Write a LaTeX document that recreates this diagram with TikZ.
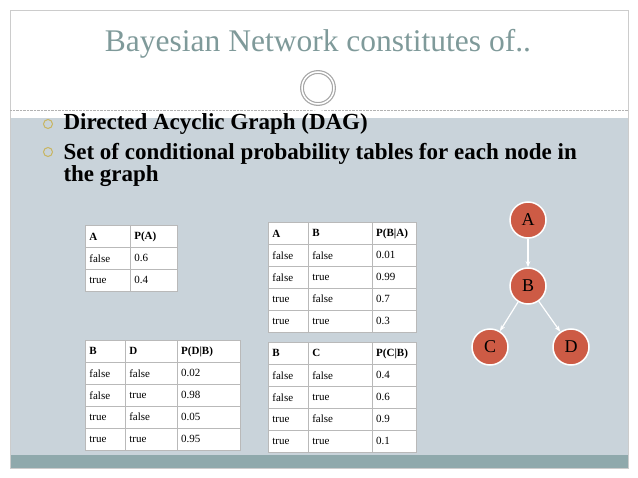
\documentclass[tikz,border=0pt]{standalone}
\usepackage{fontspec}
\setmainfont{Liberation Serif}
\usetikzlibrary{matrix,arrows.meta,positioning}
\definecolor{slidebg}{HTML}{C9D3DA}
\definecolor{strip}{HTML}{8FA9AC}
\definecolor{titlecol}{HTML}{7F9A9A}
\definecolor{nodered}{HTML}{CD5B45}
\definecolor{bulletcol}{HTML}{C8B560}
\tikzset{
  cell/.style={draw=gray!55, fill=white, minimum height=22, inner sep=4pt,
    align=left, font=\fontsize{11}{12}\selectfont, anchor=center},
  cpt/.style={matrix of nodes, row sep=-0.5pt, column sep=-0.5pt, inner sep=0pt,
    nodes={cell}},
  bnode/.style={circle, fill=nodered, draw=white, line width=1.5pt, minimum size=36,
    inner sep=0pt, font=\fontsize{18}{20}\selectfont},
  edge/.style={-{Stealth[length=6pt]}, draw=white, line width=1.2pt},
  bullet/.style={circle, draw=bulletcol, line width=1pt, minimum size=9, inner sep=0pt}
}
\begin{document}
\begin{tikzpicture}[x=1pt,y=-1pt]
  % slide background
  \useasboundingbox (0,0) rectangle (638,478);
  \fill[white] (0,0) rectangle (638,478);
  \fill[slidebg] (10,118) rectangle (628,455);
  \fill[strip] (10,455) rectangle (628,468);
  \draw[gray!40] (10,10) rectangle (628,468);
  \draw[gray!60, densely dotted] (10,110) -- (628,110);
  \fill[white] (318,88) circle (23);
  \draw[gray!70, line width=1.2pt, double=white, double distance=1.5pt] (318,88) circle (16);

  % title and bullets
  \node[titlecol, font=\fontsize{31.5}{34}\selectfont] (title) at (318,44) {Bayesian Network constitutes of..};
  \node[bullet] (b1) at (48,124) {};
  \node[bullet] (b2) at (48,152) {};
  \node[anchor=west, font=\bfseries\fontsize{23}{22}\selectfont] (t1) at (60,124) {Directed Acyclic Graph (DAG)};
  \node[anchor=north west, align=left, font=\bfseries\fontsize{23}{22}\selectfont] (t2) at (60,140)
    {Set of conditional probability tables for each node in\\the graph};

  % probability tables
  \matrix (tabA) [cpt, anchor=north west, column 1/.style={nodes={text width=37}},
    column 2/.style={nodes={text width=39}}] at (85,225) {
    \textbf{A} & \textbf{P(A)} \\
    false & 0.6 \\
    true & 0.4 \\
  };
  \matrix (tabB) [cpt, anchor=north west, column 1/.style={nodes={text width=32}},
    column 2/.style={nodes={text width=56}}, column 3/.style={nodes={text width=36}}] at (268,222) {
    \textbf{A} & \textbf{B} & \textbf{P(B|A)} \\
    false & false & 0.01 \\
    false & true & 0.99 \\
    true & false & 0.7 \\
    true & true & 0.3 \\
  };
  \matrix (tabD) [cpt, anchor=north west, column 1/.style={nodes={text width=32}},
    column 2/.style={nodes={text width=44}}, column 3/.style={nodes={text width=55}}] at (85,340) {
    \textbf{B} & \textbf{D} & \textbf{P(D|B)} \\
    false & false & 0.02 \\
    false & true & 0.98 \\
    true & false & 0.05 \\
    true & true & 0.95 \\
  };
  \matrix (tabC) [cpt, anchor=north west, column 1/.style={nodes={text width=32}},
    column 2/.style={nodes={text width=56}}, column 3/.style={nodes={text width=36}}] at (268,342) {
    \textbf{B} & \textbf{C} & \textbf{P(C|B)} \\
    false & false & 0.4 \\
    false & true & 0.6 \\
    true & false & 0.9 \\
    true & true & 0.1 \\
  };

  % the network
  \node[bnode] (A) at (528,220) {A};
  \node[bnode] (B) at (528,286) {B};
  \node[bnode] (C) at (490,347) {C};
  \node[bnode] (D) at (571,347) {D};
  \draw[edge] (A) -- (B);
  \draw[edge] (B) -- (C);
  \draw[edge] (B) -- (D);
\end{tikzpicture}
\end{document}
